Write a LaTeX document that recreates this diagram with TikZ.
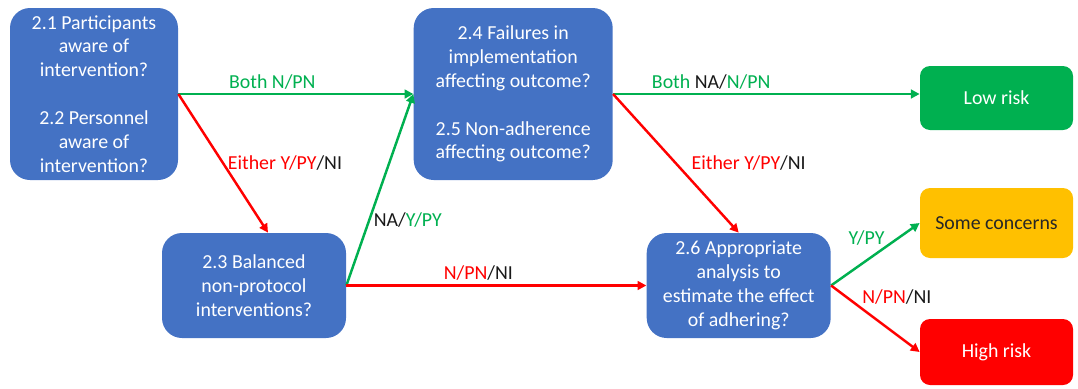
\documentclass[tikz,border=0pt]{standalone}
\usepackage{fontspec}
\setmainfont{Carlito}
\usetikzlibrary{arrows.meta,positioning}
\definecolor{qBlue}{HTML}{4472C4}
\definecolor{okGreen}{HTML}{00B050}
\definecolor{warnAmber}{HTML}{FFC000}
\definecolor{badRed}{HTML}{FF0000}

\begin{document}
\begin{tikzpicture}[
    every node/.style={font=\fontsize{11.3}{13.6}\selectfont},
    qbox/.style={fill=qBlue, text=white, rounded corners=0.4cm,
                 align=center, inner sep=2pt},
    rbox/.style={rounded corners=0.2cm, minimum width=3.06cm,
                 align=center, inner sep=2pt},
    garr/.style={-{Triangle[length=5pt,width=5pt]}, okGreen, line width=1.4pt},
    rarr/.style={-{Triangle[length=5pt,width=5pt]}, badRed, line width=1.4pt},
    lbl/.style={inner sep=2pt, text=black!90},
  ]
  \useasboundingbox (0,0) rectangle (21.56,-7.76);

  % questions
  \node[qbox, minimum width=3.36cm, minimum height=3.44cm] (q12) at (1.88,-1.88)
    {2.1 Participants\\aware of\\intervention?\\[13.6pt]2.2 Personnel\\aware of\\intervention?};
  \node[qbox, minimum width=3.98cm, minimum height=3.44cm, right=4.7cm of q12] (q45)
    {2.4 Failures in\\implementation\\affecting outcome?\\[13.6pt]2.5 Non-adherence\\affecting outcome?};
  \node[qbox, minimum width=3.68cm, minimum height=2.1cm] (q3) at (5.08,-5.71)
    {2.3 Balanced\\non-protocol\\interventions?};
  \node[qbox, minimum width=3.68cm, minimum height=2.1cm, right=6cm of q3] (q6)
    {2.6 Appropriate\\analysis to\\estimate the effect\\of adhering?};

  % judgements
  \node[rbox, fill=okGreen, text=white, minimum height=1.28cm] (low) at (19.93,-1.96) {Low risk};
  \node[rbox, fill=warnAmber, text=black!85, minimum height=1.4cm] (some) at (19.93,-4.46) {Some concerns};
  \node[rbox, fill=badRed, text=white, minimum height=1.32cm] (high) at (19.93,-7.04) {High risk};

  \draw[garr] (q12.east) -- (q45.west)
    node[lbl, pos=.4, above] {\color{okGreen}Both N/PN};
  \draw[rarr] (q12.east) -- ([xshift=0.28cm]q3.north)
    node[lbl, pos=.5, right] {{\color{badRed}Either Y/PY}/NI};
  \draw[garr] (q3.east) -- (q45.west)
    node[lbl, pos=.34, right] {NA/{\color{okGreen}Y/PY}};
  \draw[rarr] (q3.east) -- (q6.west)
    node[lbl, pos=.44, above] {{\color{badRed}N/PN}/NI};
  \draw[garr] (q45.east) -- (low.west |- q45.east)
    node[lbl, pos=.32, above] {{\color{okGreen}Both }NA/{\color{okGreen}N/PN}};
  \draw[rarr] (q45.east) -- (q6.north)
    node[lbl, pos=.5, right=0.22cm] {{\color{badRed}Either Y/PY}/NI};
  \draw[garr] (q6.east) -- (some.west)
    node[lbl, pos=.4, above=0.2cm] {\color{okGreen}Y/PY};
  \draw[rarr] (q6.east) -- (high.west)
    node[lbl, pos=.3, above right=-2pt and 0pt] {{\color{badRed}N/PN}/NI};
\end{tikzpicture}
\end{document}
